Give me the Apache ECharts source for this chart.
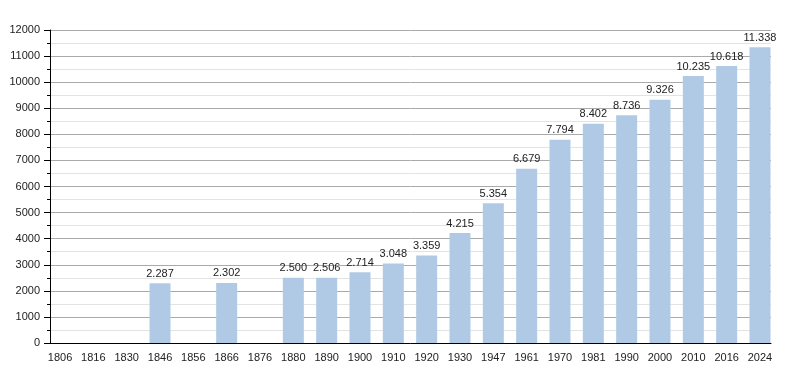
<!DOCTYPE html>
<html>
<head>
<meta charset="utf-8">
<script src="https://cdn.jsdelivr.net/npm/echarts@6/dist/echarts.min.js"></script>
<style>html,body{margin:0;padding:0;background:#fff;}#c{width:800px;height:373px;}</style>
</head>
<body>
<div id="c"></div>
<script>
const years = ['1806','1816','1830','1846','1856','1866','1876','1880','1890','1900','1910','1920','1930','1947','1961','1970','1981','1990','2000','2010','2016','2024'];
const population = [null,null,null,2287,null,2302,null,2500,2506,2714,3048,3359,4215,5354,6679,7794,8402,8736,9326,10235,10618,11338];
const yTicks = {min:0, max:12000, interval:1000};

function fmt(v){ return String(v).replace(/\B(?=(\d{3})+(?!\d))/g,'.'); }

const chart = echarts.init(document.getElementById('c'), null, {renderer:'canvas'});
const font = 'Liberation Sans, Arial, sans-serif';
chart.setOption({
  animation:false,
  backgroundColor:'#fff',
  grid:[
    {left:50, right:29, top:30, bottom:30},
    {left:43.35, right:23.35, top:30, bottom:30}
  ],
  xAxis:[
    {gridIndex:0, type:'value', min:0, max:1, axisLine:{show:true, lineStyle:{color:'#000', width:1}}, axisTick:{show:false}, axisLabel:{show:false}, splitLine:{show:false}},
    {gridIndex:1, type:'category', data:years, axisLine:{show:false}, axisTick:{show:false},
     axisLabel:{interval:0, color:'#222', fontSize:11, fontFamily:font, margin:9}}
  ],
  yAxis:[
    {gridIndex:0, type:'value', min:yTicks.min, max:yTicks.max, interval:yTicks.interval,
     axisLine:{show:true, lineStyle:{color:'#000', width:1}},
     axisTick:{show:true, length:6, lineStyle:{color:'#000'}},
     minorTick:{show:true, splitNumber:2, length:3, lineStyle:{color:'#000'}},
     axisLabel:{color:'#222', fontSize:11, fontFamily:font, margin:10, formatter:v => String(v)},
     splitLine:{show:true, lineStyle:{color:'#aaaaaa', width:1}},
     minorSplitLine:{show:true, lineStyle:{color:'#e3e3e3', width:1}}},
    {gridIndex:1, type:'value', min:yTicks.min, max:yTicks.max, show:false, splitLine:{show:false}}
  ],
  series:[{
    type:'bar', xAxisIndex:1, yAxisIndex:1, data:population, barWidth:21,
    itemStyle:{color:'#b0cae5'},
    label:{show:true, position:'top', distance:4, color:'#222', fontSize:11, fontFamily:font,
      formatter:p => p.value == null ? '' : fmt(p.value)}
  }]
});
</script>
</body>
</html>
